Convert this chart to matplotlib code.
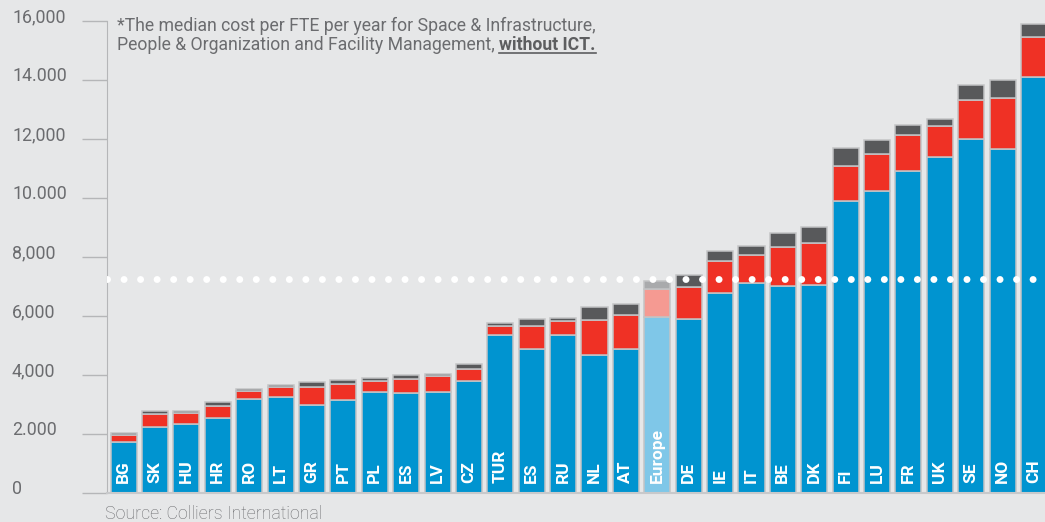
import matplotlib.pyplot as plt
import matplotlib.transforms as mtransforms

countries = ['BG', 'SK', 'HU', 'HR', 'RO', 'LT', 'GR', 'PT', 'PL', 'ES',
             'LV', 'CZ', 'TUR', 'ES', 'RU', 'NL', 'AT', 'Europe', 'DE', 'IE',
             'IT', 'BE', 'DK', 'FI', 'LU', 'FR', 'UK', 'SE', 'NO', 'CH']
space_infra = [1720, 2240, 2350, 2530, 3190, 3240, 2990, 3140, 3410, 3380,
               3430, 3790, 5350, 4870, 5350, 4680, 4890, 5970, 5890, 6790,
               7110, 7030, 7050, 9890, 10230, 10930, 11390, 11990, 11660, 14110]
people_org = [260, 430, 360, 420, 270, 350, 610, 550, 380, 490,
              520, 430, 320, 790, 470, 1170, 1130, 940, 1090, 1080,
              970, 1300, 1410, 1190, 1260, 1200, 1040, 1320, 1720, 1360]
facility = [50, 100, 80, 120, 70, 80, 150, 150, 100, 120,
            100, 150, 90, 230, 100, 440, 370, 260, 410, 320,
            300, 500, 540, 600, 480, 340, 240, 510, 630, 440]
europe_avg = 7250
yticks = [0, 2000, 4000, 6000, 8000, 10000, 12000, 14000, 16000]
ytick_labels = ['0', '2.000', '4,000', '6,000', '8,000', '10.000',
                '12,000', '14.000', '16,000']

bg = '#e6e7e8'
grey_txt = '#6b6c6f'
edge = '#c3c4c6'

fig = plt.figure(figsize=(10.45, 5.22), dpi=100, facecolor=bg)
ax = fig.add_axes([107 / 1045, 1 - 493 / 522, 938 / 1045, 472 / 522])
ax.set_facecolor(bg)

x = list(range(len(countries)))
c1 = ['#7fc7e8' if c == 'Europe' else '#0094d0' for c in countries]
c2 = ['#f59a92' if c == 'Europe' else '#ef3125' for c in countries]
c3 = ['#a9aaac' if c == 'Europe' else '#58595b' for c in countries]
bottom2 = [a for a in space_infra]
bottom3 = [a + b for a, b in zip(space_infra, people_org)]
w = 0.83
ax.bar(x, space_infra, width=w, color=c1, edgecolor=edge, linewidth=1.1, zorder=2)
ax.bar(x, people_org, width=w, bottom=bottom2, color=c2, edgecolor=edge,
       linewidth=1.1, zorder=2)
ax.bar(x, facility, width=w, bottom=bottom3, color=c3, edgecolor=edge,
       linewidth=1.1, zorder=2)

for i, c in enumerate(countries):
    ax.text(i, 340, c, rotation=90, ha='center', va='bottom', color='white',
            fontsize=12.5, fontweight='bold', family='Roboto', zorder=4)

ax.axhline(europe_avg, color='white', linewidth=5, linestyle=(0, (0.01, 2.37)),
           dash_capstyle='round', zorder=5)

ax.set_xlim(-0.53, 29.35)
ax.set_ylim(0, 16000)
for s in ['top', 'right']:
    ax.spines[s].set_visible(False)
ax.spines['left'].set_color('#b5b6b8')
ax.spines['bottom'].set_color('#c8c9cb')
ax.spines['bottom'].set_linewidth(1.5)
ax.set_xticks([])
ax.set_yticks(yticks)
ax.set_yticklabels([])
ax.tick_params(axis='y', length=18, color='#b5b6b8', width=1)

trans = mtransforms.offset_copy(ax.get_yaxis_transform(), fig=fig, y=4,
                                units='dots')
for v, lab in zip(yticks, ytick_labels):
    ax.text((12 - 107) / 938, v, lab, transform=trans, ha='left',
            va='center', color=grey_txt, fontsize=12.8, family='Roboto',
            clip_on=False)

fs_note = 12.7
t1 = fig.text(117 / 1045, 1 - 31 / 522,
              '*The median cost per FTE per year for Space & Infrastructure,',
              color=grey_txt, fontsize=fs_note, family='Roboto')
t2 = fig.text(117 / 1045, 1 - 50 / 522,
              'People & Organization and Facility Management, ',
              color=grey_txt, fontsize=fs_note, family='Roboto')
fig.canvas.draw()
bb = t2.get_window_extent()
t3 = fig.text(bb.x1 / 1045, 1 - 50 / 522, 'without ICT.', color='#5d5e60',
              fontsize=fs_note, family='Roboto', fontweight='bold')
fig.canvas.draw()
bb3 = t3.get_window_extent()
fig.add_artist(plt.Line2D([bb3.x0 / 1045, bb3.x1 / 1045],
                          [1 - 53 / 522, 1 - 53 / 522], color='#5d5e60',
                          linewidth=1.2))

fig.text(105 / 1045, 1 - 519 / 522, 'Source: Colliers International',
         color=grey_txt, fontsize=12.8, family='Roboto', fontweight='light')

fig.savefig('out.png', dpi=100, facecolor=bg)
